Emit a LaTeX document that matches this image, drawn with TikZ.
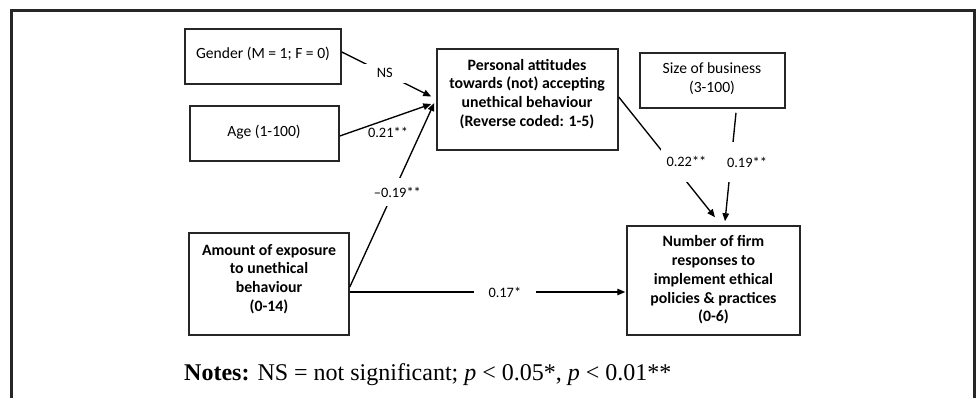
\documentclass[tikz,border=0pt]{standalone}
\usepackage{fontspec}
\setmainfont{Liberation Serif}
\newfontfamily\calfont{Carlito}
\usetikzlibrary{arrows.meta,calc}
\begin{document}
\begin{tikzpicture}[x=1pt,y=-1pt,
  box/.style={draw, line width=1.5pt, draw=black!85, inner sep=0pt},
  txt/.style={font=\calfont\fontsize{15.6}{18.8}\selectfont, align=center, inner sep=0pt},
  btxt/.style={font=\calfont\bfseries\fontsize{15.8}{18.8}\selectfont, align=center, inner sep=0pt},
  conn/.style={line width=1.35pt},
  arr/.style={conn, -{Triangle[length=8pt,width=6.5pt]}},
  lab/.style={font=\calfont\fontsize{14.4}{16}\selectfont, text=black},
  gap/.style={lab, fill=white}]
\useasboundingbox (0,0) rectangle (976,397);
% frame
\draw[line width=3pt, draw=black!85] (11,400) -- (11,10) -- (974,10) -- (974,400);
% boxes
\node[box, minimum width=156pt, minimum height=55pt] (gender) at (263,56.5) {};
\node[txt] (gendert) at (263,54) {Gender (M = 1; F = 0)};
\node[box, minimum width=149pt, minimum height=55pt] (age) at (264.5,133.5) {};
\node[txt] (aget) at (264,132) {Age (1-100)};
\node[box, minimum width=181pt, minimum height=101pt] (pa) at (527.5,99.5) {};
\node[btxt] (pat) at (527,94) {Personal attitudes\\towards (not) accepting\\unethical behaviour\\(Reverse coded: 1-5)};
\node[box, minimum width=145pt, minimum height=55pt] (size) at (712.5,80.5) {};
\node[txt] (sizet) at (712,78.5) {Size of business\\(3-100)};
\node[box, minimum width=160pt, minimum height=102pt] (amount) at (269,284) {};
\node[btxt] (amountt) at (269,279) {Amount of exposure\\to unethical\\behaviour\\(0-14)};
\node[box, minimum width=173pt, minimum height=109pt] (num) at (713.5,280.5) {};
\node[btxt] (numt) at (713.5,280) {Number of firm\\responses to\\implement ethical\\policies \& practices\\(0-6)};
% connectors
\draw[arr] ($(gender.east)+(0,-4.5)$) -- node[gap, pos=0.48, inner xsep=13pt, inner ysep=5pt] (ns) {NS} ($(pa.west)+(-5,-3)$);
\draw[arr] ($(age.east)+(0,2.5)$) -- ($(pa.west)+(-5,4.5)$);
\node[lab] (l21) at (388,132) {0.21**};
\draw[arr] ($(amount.east)+(0,3)$) -- node[gap, pos=0.516, xshift=4pt, inner xsep=3pt, inner ysep=9pt] (l19) {–0.19**} ($(pa.west)+(-2,3.5)$);
\draw[arr] ($(amount.east)+(0,8)$) -- node[gap, pos=0.563, inner xsep=15pt, inner ysep=4pt] (l17) {0.17*} ($(num.west)+(-1,11.5)$);
\draw[arr] ($(pa.east)+(0,-2.5)$) -- node[gap, pos=0.537, xshift=16pt, inner xsep=6pt, inner ysep=15pt] (l22) {0.22**} ($(num.north)+(1.5,-8)$);
\draw[arr] ($(size.south)+(23.5,4)$) -- node[gap, pos=0.455, xshift=16pt, inner xsep=6pt, inner ysep=15pt] (l19b) {0.19**} ($(num.north)+(11.5,-4)$);
% notes
\node[anchor=base west, inner sep=0pt, font=\fontsize{24}{28}\selectfont] (notes) at (184,380) {\textbf{Notes:} NS = not significant; \textit{p} < 0.05*, \textit{p} < 0.01**};
\end{tikzpicture}
\end{document}
